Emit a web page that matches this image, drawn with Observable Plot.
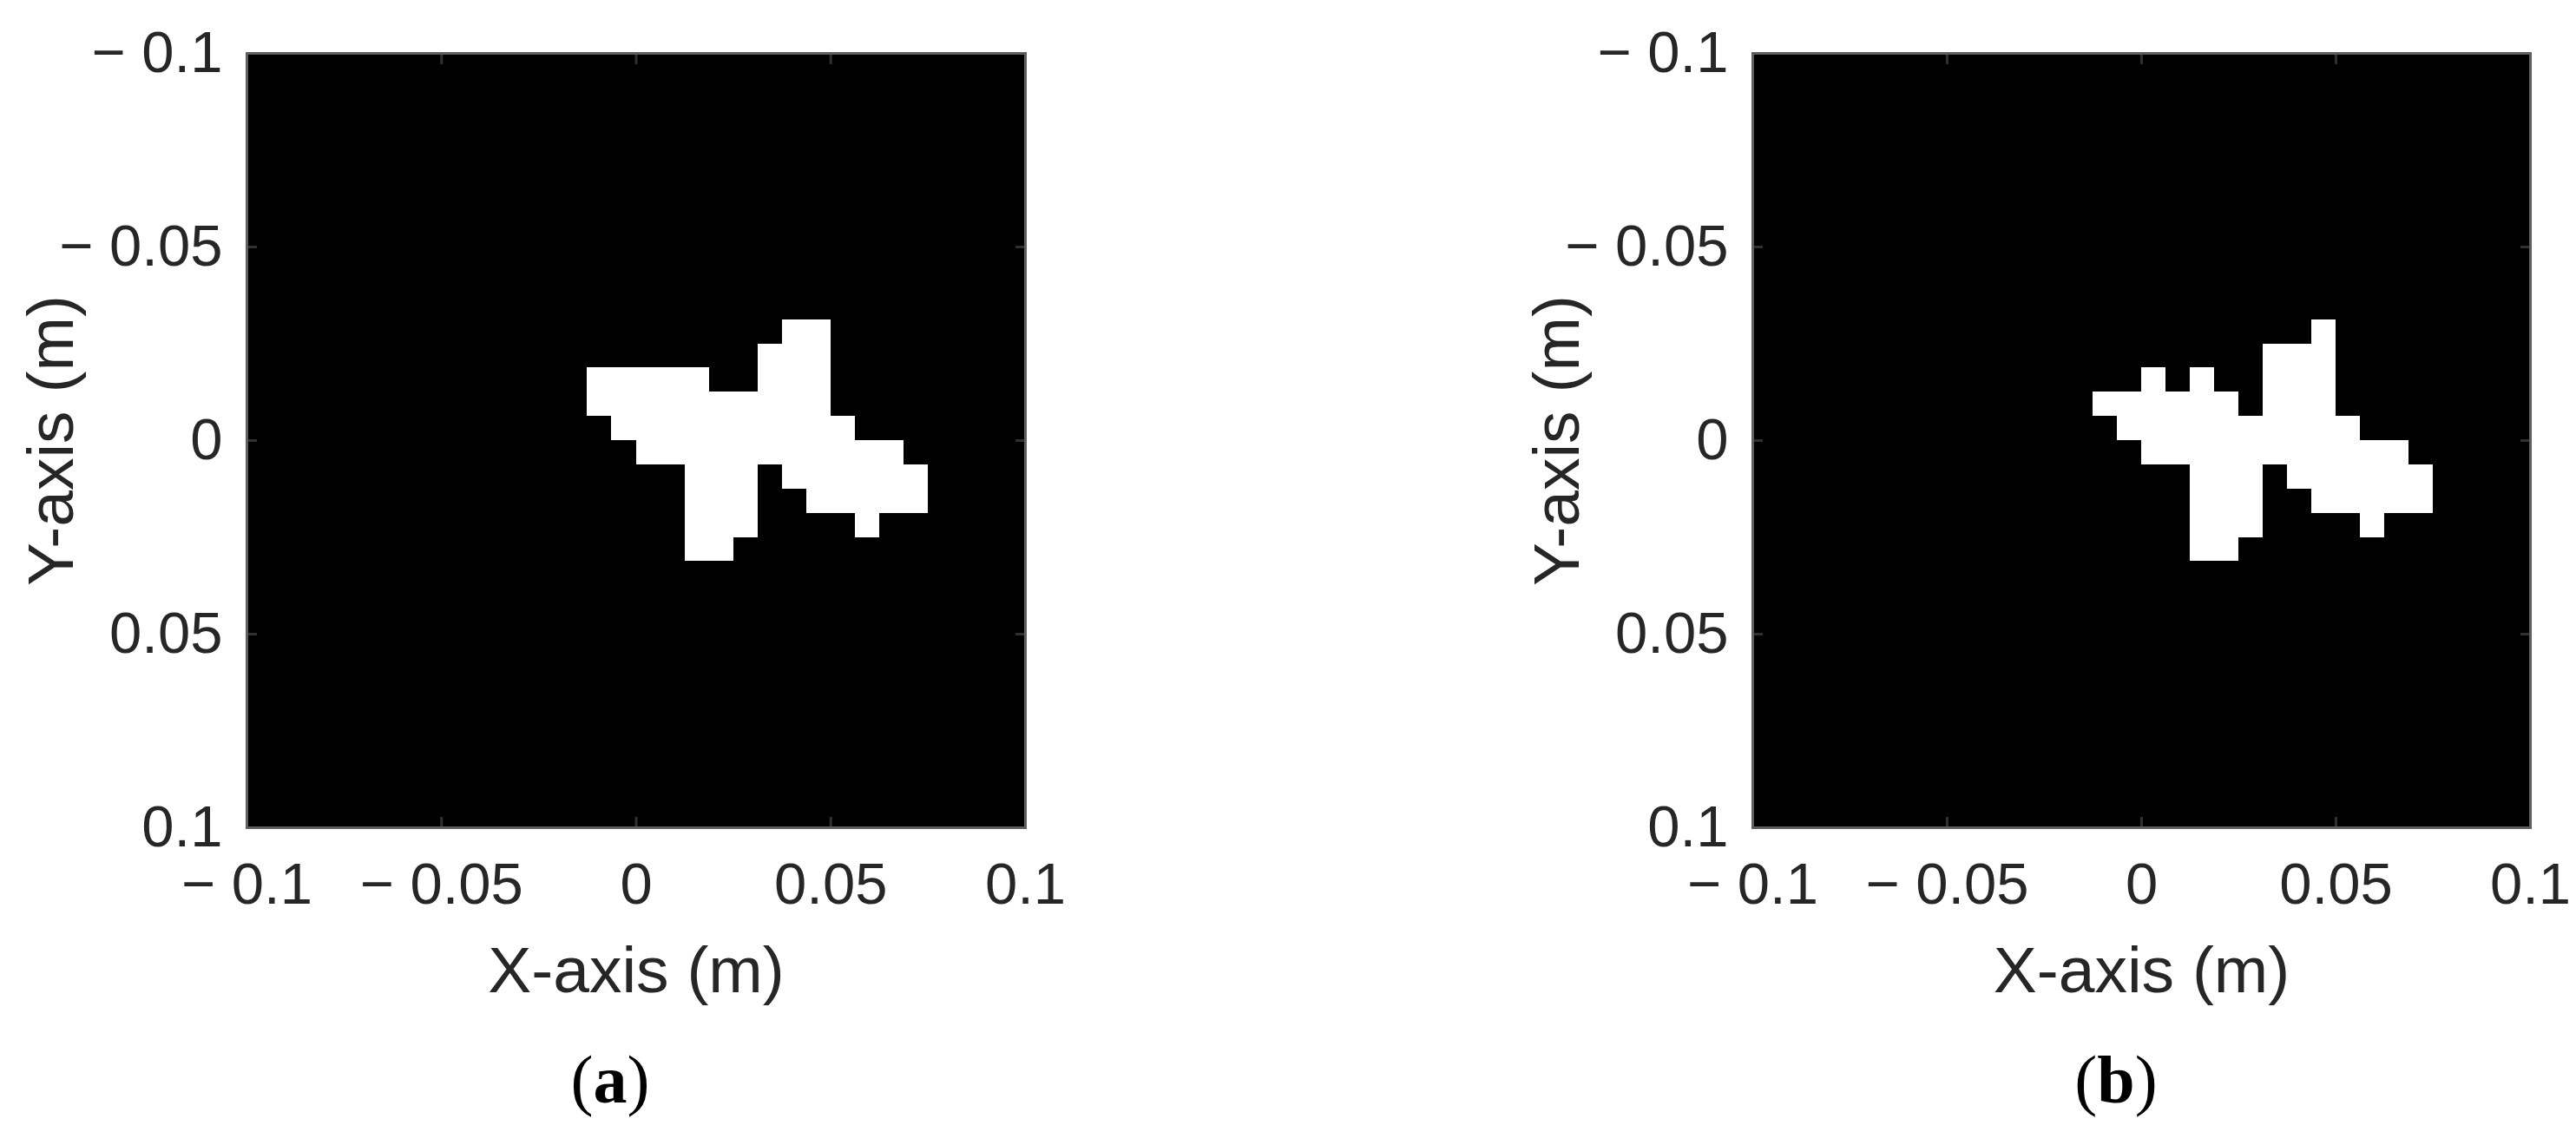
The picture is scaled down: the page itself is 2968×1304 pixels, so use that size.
<!DOCTYPE html>
<html>
<head>
<meta charset="utf-8">
<script src="https://cdn.jsdelivr.net/npm/d3@7"></script>
<script src="https://cdn.jsdelivr.net/npm/@observablehq/plot@0.6"></script>
<style>
  html, body { margin: 0; padding: 0; background: #ffffff; }
  #page { position: relative; width: 2968px; height: 1304px; background: #ffffff; overflow: hidden; }
  .panel { position: absolute; top: 0; }
  .caption { position: absolute; width: 400px; text-align: center; font-family: "Liberation Serif", "DejaVu Serif", serif; font-size: 78px; line-height: 78px; color: #000; }
</style>
</head>
<body>
<div id="page">
  <div class="panel" id="panelA" style="left:0px"></div>
  <div class="panel" id="panelB" style="left:1500px"></div>
  <div class="caption" style="left:503px; top:1205px">(<b>a</b>)</div>
  <div class="caption" style="left:2238px; top:1205px">(<b>b</b>)</div>
</div>
<script>
// ---- data ----
// Axis extents (m) and the pixel grid of the binary image (32 x 32 cells)
const xExtent = [-0.1, 0.1];
const yExtent = [-0.1, 0.1];
const gridCells = 32;
const tickValues = [-0.1, -0.05, 0, 0.05, 0.1];
const xLabel = "X-axis (m)";
const yLabel = "Y-axis (m)";

// White pixel runs: [row, firstColumn, lastColumn] (row 0 = y -0.1, column 0 = x -0.1)
const shapeA = [
  [11, 22, 23],
  [12, 21, 23],
  [13, 14, 18], [13, 21, 23],
  [14, 14, 23],
  [15, 15, 24],
  [16, 16, 26],
  [17, 18, 20], [17, 22, 27],
  [18, 18, 20], [18, 23, 27],
  [19, 18, 20], [19, 25, 25],
  [20, 18, 19]
];
const shapeB = [
  [11, 23, 23],
  [12, 21, 23],
  [13, 16, 16], [13, 18, 18], [13, 21, 23],
  [14, 14, 19], [14, 21, 23],
  [15, 15, 24],
  [16, 16, 26],
  [17, 18, 20], [17, 22, 27],
  [18, 18, 20], [18, 23, 27],
  [19, 18, 20], [19, 25, 25],
  [20, 18, 19]
];

// ---- drawing ----
const stepX = (xExtent[1] - xExtent[0]) / gridCells;
const stepY = (yExtent[1] - yExtent[0]) / gridCells;
const fmt = d => d < 0 ? `\u2212 ${+(-d).toFixed(2)}` : `${+d.toFixed(2)}`;
const textColor = "#262626";

function panel(shape, width, marginLeft, marginRight) {
  const height = 1180;
  return Plot.plot({
    width, height,
    marginLeft, marginRight,
    marginTop: 61,
    marginBottom: height - 61 - 892,
    style: {background: "transparent", fontFamily: "'Liberation Sans', Arial, sans-serif", color: textColor, overflow: "visible"},
    x: {domain: xExtent},
    y: {domain: yExtent, reverse: true},
    marks: [
      Plot.frame({fill: "black"}),
      Plot.rect(shape, {
        x1: d => xExtent[0] + d[1] * stepX,
        x2: d => xExtent[0] + (d[2] + 1) * stepX,
        y1: d => yExtent[0] + d[0] * stepY,
        y2: d => yExtent[0] + (d[0] + 1) * stepY,
        fill: "white",
        shapeRendering: "crispEdges"
      }),
      // inward tick marks on all four sides
      Plot.axisX(tickValues, {anchor: "bottom", tickSize: -12, fill: "none", stroke: "#303030", strokeWidth: 3, label: null}),
      Plot.axisX(tickValues, {anchor: "top", tickSize: -12, fill: "none", stroke: "#303030", strokeWidth: 3, label: null}),
      Plot.axisY(tickValues, {anchor: "left", tickSize: -12, fill: "none", stroke: "#303030", strokeWidth: 3, label: null}),
      Plot.axisY(tickValues, {anchor: "right", tickSize: -12, fill: "none", stroke: "#303030", strokeWidth: 3, label: null}),
      // tick labels
      Plot.axisX(tickValues, {anchor: "bottom", tickSize: 0, tickPadding: 40, tickFormat: fmt, fontSize: 67, fill: textColor, label: null}),
      Plot.axisY(tickValues, {anchor: "left", tickSize: 0, tickPadding: 28, tickFormat: fmt, fontSize: 67, fill: textColor, label: null}),
      Plot.frame({stroke: "#5e5e5e", strokeWidth: 3}),
      // axis titles
      Plot.text([xLabel], {text: d => d, frameAnchor: "bottom", dy: 189, lineAnchor: "bottom", textAnchor: "middle", fontSize: 75, fill: textColor}),
      Plot.text([yLabel], {text: d => d, frameAnchor: "left", dx: -201, rotate: -90, lineAnchor: "bottom", textAnchor: "middle", fontSize: 75, fill: textColor})
    ]
  });
}

document.getElementById("panelA").appendChild(panel(shapeA, 1400, 284, 1400 - 284 - 897));
document.getElementById("panelB").appendChild(panel(shapeB, 1468, 519, 1468 - 519 - 896));
</script>
</body>
</html>
